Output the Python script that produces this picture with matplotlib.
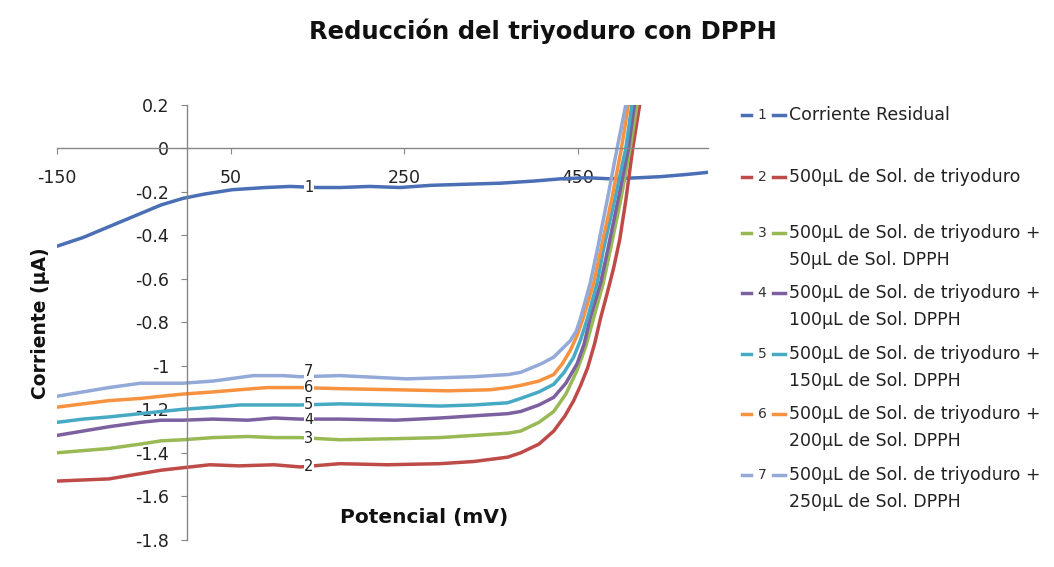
import matplotlib
matplotlib.use('Agg')
import matplotlib.pyplot as plt
import numpy as np
from matplotlib.lines import Line2D

plt.rcParams['font.family'] = ['DejaVu Sans']

# ---- data (Potencial mV, Corriente uA) ----
x1 = [-150, -120, -90, -60, -30, -5, 20, 52, 90, 119, 150, 176, 210, 245, 280, 320, 361, 400, 430, 460, 487, 520, 545, 575, 600]
y1 = [-0.45, -0.41, -0.36, -0.31, -0.26, -0.23, -0.21, -0.19, -0.18, -0.175, -0.18, -0.18, -0.175, -0.18, -0.17, -0.165, -0.16, -0.15, -0.14, -0.135, -0.14, -0.135, -0.13, -0.12, -0.11]

x2 = [-150, -120, -90, -60, -30, -8, 26, 60, 100, 130, 176, 230, 291, 330, 369, 384, 405, 422, 435, 445, 453, 461, 469, 476, 484, 491, 498, 505, 513, 521, 529]
y2 = [-1.53, -1.525, -1.52, -1.50, -1.48, -1.47, -1.455, -1.46, -1.455, -1.465, -1.45, -1.455, -1.45, -1.44, -1.42, -1.40, -1.36, -1.30, -1.23, -1.16, -1.09, -1.01, -0.90, -0.78, -0.66, -0.55, -0.42, -0.24, 0.0, 0.2, 0.4]

x3 = [-150, -120, -90, -54, -30, -5, 30, 70, 100, 130, 176, 240, 291, 330, 369, 384, 405, 422, 436, 449, 459, 468, 479, 487, 499, 510, 518, 526]
y3 = [-1.40, -1.39, -1.38, -1.36, -1.345, -1.34, -1.33, -1.325, -1.33, -1.33, -1.34, -1.335, -1.33, -1.32, -1.31, -1.30, -1.26, -1.21, -1.13, -1.02, -0.91, -0.78, -0.62, -0.47, -0.24, 0.0, 0.2, 0.4]

x4 = [-150, -120, -90, -54, -30, -5, 30, 70, 100, 130, 176, 240, 291, 330, 369, 384, 405, 422, 436, 449, 457, 464, 476, 484, 496, 508, 515, 523]
y4 = [-1.32, -1.30, -1.28, -1.26, -1.25, -1.25, -1.245, -1.25, -1.24, -1.245, -1.245, -1.25, -1.24, -1.23, -1.22, -1.21, -1.18, -1.145, -1.08, -0.99, -0.90, -0.78, -0.62, -0.47, -0.24, 0.0, 0.2, 0.4]

x5 = [-150, -120, -90, -54, -30, -5, 30, 61, 100, 130, 176, 240, 291, 330, 369, 384, 405, 422, 434, 445, 453, 461, 472, 479, 492, 505, 512, 520]
y5 = [-1.26, -1.245, -1.235, -1.22, -1.21, -1.20, -1.19, -1.18, -1.18, -1.18, -1.175, -1.18, -1.185, -1.18, -1.17, -1.15, -1.12, -1.085, -1.03, -0.96, -0.88, -0.78, -0.62, -0.47, -0.24, 0.0, 0.2, 0.4]

x6 = [-150, -120, -90, -54, -30, -5, 30, 60, 92, 130, 176, 240, 300, 349, 370, 384, 405, 422, 432, 441, 449, 456, 468, 476, 489, 500, 508, 517]
y6 = [-1.19, -1.175, -1.16, -1.15, -1.14, -1.13, -1.12, -1.11, -1.10, -1.10, -1.105, -1.11, -1.115, -1.11, -1.10, -1.09, -1.07, -1.04, -0.99, -0.93, -0.86, -0.78, -0.62, -0.47, -0.23, 0.0, 0.2, 0.4]

x7 = [-150, -120, -90, -54, -30, -5, 30, 76, 110, 130, 176, 253, 330, 370, 384, 408, 422, 441, 448, 453, 464, 472, 484, 495, 505, 514]
y7 = [-1.14, -1.12, -1.10, -1.08, -1.08, -1.08, -1.07, -1.045, -1.045, -1.05, -1.045, -1.06, -1.05, -1.04, -1.03, -0.99, -0.96, -0.885, -0.84, -0.78, -0.62, -0.47, -0.23, 0.0, 0.2, 0.4]

series_x = [x1, x2, x3, x4, x5, x6, x7]
series_y = [y1, y2, y3, y4, y5, y6, y7]
series_num = ['1', '2', '3', '4', '5', '6', '7']
name_line1 = ['Corriente Residual', '500µL de Sol. de triyoduro'] + ['500µL de Sol. de triyoduro +'] * 5
name_line2 = ['', '', '50µL de Sol. DPPH', '100µL de Sol. DPPH', '150µL de Sol. DPPH',
              '200µL de Sol. DPPH', '250µL de Sol. DPPH']
colors = ['#4A6FB5', '#BE4B48', '#98B954', '#7D60A0', '#46AAC5', '#F69240', '#93A9D8']

x_ticks = [-150, 50, 250, 450]
y_ticks = [0.2, 0, -0.2, -0.4, -0.6, -0.8, -1, -1.2, -1.4, -1.6, -1.8]

# data label placement (Excel style, on the curve with a white box)
label_x = 140
label_dy = [0, 0, 0, 0, 0, 0, 0.025]

fig = plt.figure(figsize=(10.54, 5.67), dpi=100)
ax = fig.add_axes([0.054, 0.048, 0.618, 0.767])

for xs, ys, c in zip(series_x, series_y, colors):
    ax.plot(xs, ys, color=c, lw=2.5, solid_capstyle='round')

for xs, ys, n, dy in zip(series_x, series_y, series_num, label_dy):
    yl = np.interp(label_x, xs, ys) + dy
    ax.text(label_x, yl, n, ha='center', va='center', fontsize=10.5, color='#222222',
            bbox=dict(facecolor='white', edgecolor='none', pad=0.4), zorder=5)

ax.set_xlim(-150, 600)
ax.set_ylim(-1.8, 0.2)
ax.spines['left'].set_position(('data', 0))
ax.spines['bottom'].set_position(('data', 0))
ax.spines['top'].set_visible(False)
ax.spines['right'].set_visible(False)
for s in ['left', 'bottom']:
    ax.spines[s].set_color('#868686')
    ax.spines[s].set_linewidth(1.0)
ax.set_xticks(x_ticks)
ax.set_xticklabels([str(v) for v in x_ticks])
ax.set_yticks(y_ticks)
ax.set_yticklabels(['0.2', '0', '-0.2', '-0.4', '-0.6', '-0.8', '-1', '-1.2', '-1.4', '-1.6', '-1.8'])
ax.tick_params(axis='both', direction='out', length=4, color='#868686', labelsize=12.5, labelcolor='#222222')
ax.tick_params(axis='x', pad=11)
ax.tick_params(axis='y', pad=9)
ax.patch.set_alpha(0)

fig.text(0.515, 0.945, 'Reducción del triyoduro con DPPH', ha='center', va='center',
         fontsize=17.5, fontweight='bold', color='#111111')
fig.text(0.038, 0.43, 'Corriente (µA)', ha='center', va='center', rotation=90,
         fontsize=13.5, fontweight='bold', color='#111111')
fig.text(0.402, 0.088, 'Potencial (mV)', ha='center', va='center',
         fontsize=14.5, fontweight='bold', color='#111111')

# legend, drawn the Excel way: -n- then the name (second line below)
leg_y = [115, 177, 233, 293, 354, 414, 475]
H = 567.0
W = 1054.0
for i in range(7):
    yy = 1 - leg_y[i] / H
    fig.add_artist(Line2D([742 / W, 751 / W], [yy, yy], color=colors[i], lw=2.5, transform=fig.transFigure))
    fig.add_artist(Line2D([773 / W, 785 / W], [yy, yy], color=colors[i], lw=2.5, transform=fig.transFigure))
    fig.text(762 / W, yy, series_num[i], ha='center', va='center', fontsize=10, color='#333333')
    fig.text(789 / W, yy, name_line1[i], ha='left', va='center', fontsize=12.5, color='#222222')
    if name_line2[i]:
        fig.text(789 / W, yy - 27 / H, name_line2[i], ha='left', va='center', fontsize=12.5, color='#222222')

fig.savefig('out.png', dpi=100)
